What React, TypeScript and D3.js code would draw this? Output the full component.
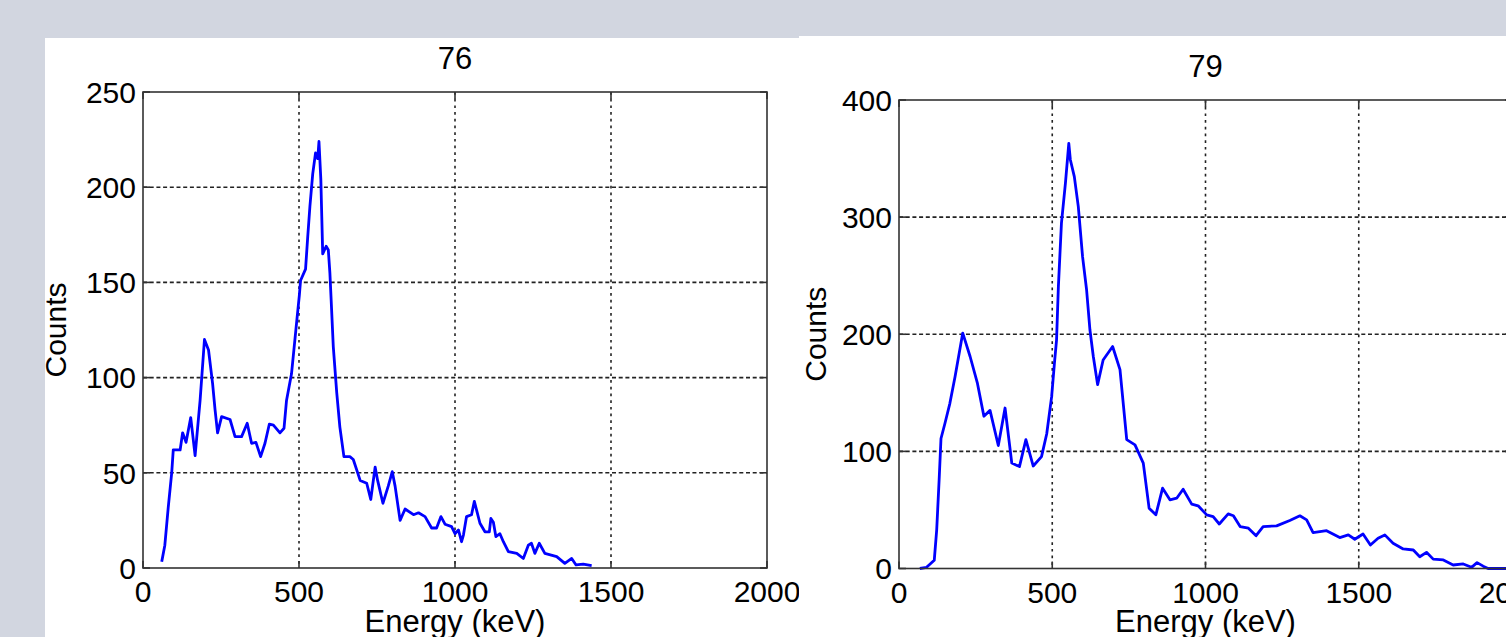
import { useEffect, useRef } from 'react';
import * as d3 from 'd3';

// spectrum 76
const energy76 = [60, 70, 81, 92, 97, 119, 127, 138, 153, 167, 183, 197, 210, 223, 231, 239, 252, 279, 295, 316, 334, 348, 362, 377, 391, 405, 418, 439, 452, 460, 476, 493, 501, 505, 521, 528, 535, 544, 553, 560, 564, 567, 570, 573, 576, 587, 594, 599, 603, 610, 621, 631, 644, 663, 674, 696, 717, 730, 744, 752, 769, 786, 799, 808, 824, 840, 867, 883, 904, 925, 941, 955, 968, 989, 1000, 1011, 1021, 1027, 1037, 1053, 1062, 1069, 1080, 1096, 1110, 1115, 1123, 1131, 1144, 1155, 1171, 1198, 1219, 1235, 1245, 1256, 1270, 1288, 1326, 1352, 1374, 1388, 1411, 1438];
const counts76 = [3.3, 12, 32, 50, 62, 62, 71, 66, 79, 59, 88, 120, 114.5, 97, 83, 71, 79.5, 78, 69, 69, 76, 65.5, 66, 58.5, 65.5, 75.6, 75, 71, 73.4, 88, 102, 130, 143, 151, 157, 174, 190, 207, 218, 215, 224, 214, 204, 184.5, 165, 169, 167, 155, 141, 116, 92, 74, 58.5, 58.5, 57, 46, 44.5, 36, 53, 46, 34, 43, 50.6, 43, 25, 31, 28, 29, 27, 21, 21, 27, 23, 21.7, 18, 20, 13.8, 17.3, 27, 28, 35, 30.5, 23.5, 19, 19, 26, 24, 16.5, 18, 13.8, 8.6, 7.7, 5, 12, 13, 7.7, 13, 7.7, 6, 2.4, 5, 1.6, 2, 1.2];

// spectrum 79
const energy79 = [68, 90, 115, 123, 131, 137, 150, 166, 183, 208, 232, 256, 277, 297, 324, 346, 368, 393, 414, 438, 465, 482, 498, 507, 514, 520, 530, 543, 554, 559, 572, 585, 599, 612, 623, 634, 648, 666, 697, 721, 743, 770, 797, 816, 838, 860, 884, 906, 927, 955, 976, 1004, 1025, 1045, 1074, 1091, 1113, 1140, 1165, 1188, 1232, 1275, 1308, 1330, 1351, 1395, 1438, 1466, 1487, 1514, 1538, 1563, 1585, 1612, 1645, 1678, 1699, 1721, 1743, 1776, 1808, 1841, 1868, 1886, 1906, 1922, 1990];
const counts79 = [0, 1, 7, 33, 76, 111, 124, 141, 164, 201, 181, 158, 130, 135, 105, 137, 90, 87, 110, 87.5, 95.5, 115, 146.7, 175, 195, 240.7, 294.8, 329, 363, 349, 334.6, 309, 266, 238, 203.6, 181, 157, 178, 189.5, 169.8, 110, 105.6, 90, 51.5, 45.8, 68.6, 58.6, 60, 67.7, 55, 53.5, 45.8, 44.3, 38, 46.6, 45, 35.8, 34.4, 28, 35.8, 36.4, 41, 45, 41.5, 30.6, 32.3, 26.4, 28.7, 25, 29.5, 20, 25.8, 28.7, 21.6, 16.7, 15.8, 10, 13.8, 8, 7.3, 3, 3.9, 1, 5, 2, 0, 0];

const xTicks = [0, 500, 1000, 1500, 2000];
const yTicks76 = [0, 50, 100, 150, 200, 250];
const yTicks79 = [0, 100, 200, 300, 400];

const FONT = '"Liberation Sans", Arial, sans-serif';

type PanelProps = {
  title: string;
  xs: number[];
  ys: number[];
  yTicks: number[];
  box: { x: number; y: number; w: number; h: number };
  area: { x: number; y: number; w: number; h: number };
  yLabelX: number;
};

const Panel = ({ title, xs, ys, yTicks, box, area, yLabelX }: PanelProps) => {
  const gRef = useRef<SVGGElement>(null);

  useEffect(() => {
    const g = d3.select(gRef.current);
    g.selectAll('*').remove();

    g.append('rect')
      .attr('x', box.x)
      .attr('y', box.y)
      .attr('width', box.w)
      .attr('height', box.h)
      .attr('fill', '#ffffff');

    const x = d3.scaleLinear().domain([0, 2000]).range([area.x, area.x + area.w]);
    const y = d3
      .scaleLinear()
      .domain([0, yTicks[yTicks.length - 1]])
      .range([area.y + area.h, area.y]);

    // grid
    g.selectAll('.vgrid')
      .data(xTicks.slice(1, -1))
      .enter()
      .append('line')
      .attr('x1', d => x(d))
      .attr('x2', d => x(d))
      .attr('y1', area.y)
      .attr('y2', area.y + area.h)
      .attr('stroke', '#222')
      .attr('stroke-width', 1.6)
      .attr('stroke-dasharray', '2.7,4');

    g.selectAll('.hgrid')
      .data(yTicks.slice(1, -1))
      .enter()
      .append('line')
      .attr('x1', area.x)
      .attr('x2', area.x + area.w)
      .attr('y1', d => y(d))
      .attr('y2', d => y(d))
      .attr('stroke', '#222')
      .attr('stroke-width', 1.6)
      .attr('stroke-dasharray', '4,2.7');

    // ticks (inside, all four sides)
    const tl = 7;
    xTicks.forEach(t => {
      g.append('line')
        .attr('x1', x(t)).attr('x2', x(t))
        .attr('y1', area.y + area.h).attr('y2', area.y + area.h - tl)
        .attr('stroke', '#333').attr('stroke-width', 1.6);
      g.append('line')
        .attr('x1', x(t)).attr('x2', x(t))
        .attr('y1', area.y).attr('y2', area.y + tl)
        .attr('stroke', '#333').attr('stroke-width', 1.6);
    });
    yTicks.forEach(t => {
      g.append('line')
        .attr('x1', area.x).attr('x2', area.x + tl)
        .attr('y1', y(t)).attr('y2', y(t))
        .attr('stroke', '#333').attr('stroke-width', 1.6);
      g.append('line')
        .attr('x1', area.x + area.w).attr('x2', area.x + area.w - tl)
        .attr('y1', y(t)).attr('y2', y(t))
        .attr('stroke', '#333').attr('stroke-width', 1.6);
    });

    // spectrum line
    const line = d3
      .line<number>()
      .x((d, i) => x(xs[i]))
      .y(d => y(d));

    g.append('path')
      .datum(ys)
      .attr('d', line)
      .attr('fill', 'none')
      .attr('stroke', '#0000ff')
      .attr('stroke-width', 2.8)
      .attr('stroke-linejoin', 'round');

    // axes box
    g.append('rect')
      .attr('x', area.x)
      .attr('y', area.y)
      .attr('width', area.w)
      .attr('height', area.h)
      .attr('fill', 'none')
      .attr('stroke', '#333')
      .attr('stroke-width', 1.6);

    // tick labels
    g.selectAll('.xlab')
      .data(xTicks)
      .enter()
      .append('text')
      .attr('x', d => x(d))
      .attr('y', area.y + area.h + 34)
      .attr('text-anchor', 'middle')
      .style('font-family', FONT)
      .style('font-size', '30px')
      .attr('fill', '#000')
      .text(d => d);

    g.selectAll('.ylab')
      .data(yTicks)
      .enter()
      .append('text')
      .attr('x', area.x - 7)
      .attr('y', d => y(d))
      .attr('dy', '0.36em')
      .attr('text-anchor', 'end')
      .style('font-family', FONT)
      .style('font-size', '30px')
      .attr('fill', '#000')
      .text(d => d);

    // title + axis labels
    g.append('text')
      .attr('x', area.x + area.w / 2)
      .attr('y', area.y - 23)
      .attr('text-anchor', 'middle')
      .style('font-family', FONT)
      .style('font-size', '31px')
      .attr('fill', '#000')
      .text(title);

    g.append('text')
      .attr('x', area.x + area.w / 2)
      .attr('y', area.y + area.h + 63.5)
      .attr('text-anchor', 'middle')
      .style('font-family', FONT)
      .style('font-size', '31px')
      .attr('fill', '#000')
      .text('Energy (keV)');

    g.append('text')
      .attr('transform', `translate(${yLabelX},${area.y + area.h / 2}) rotate(-90)`)
      .attr('text-anchor', 'middle')
      .style('font-family', FONT)
      .style('font-size', '30px')
      .attr('fill', '#000')
      .text('Counts');
  }, [title, xs, ys, yTicks, box, area, yLabelX]);

  return <g ref={gRef}></g>;
};

const box76 = { x: 45, y: 38, w: 754, h: 599 };
const area76 = { x: 143, y: 92, w: 624, h: 476 };
const box79 = { x: 799, y: 36, w: 707, h: 601 };
const area79 = { x: 899, y: 100, w: 613, h: 468.5 };

export default function App() {
  return (
    <svg
      width={1506}
      height={637}
      style={{ position: 'absolute', left: 0, top: 0, background: '#d2d6e0' }}
    >
      <Panel title="76" xs={energy76} ys={counts76} yTicks={yTicks76} box={box76} area={area76} yLabelX={66} />
      <Panel title="79" xs={energy79} ys={counts79} yTicks={yTicks79} box={box79} area={area79} yLabelX={826} />
    </svg>
  );
}
